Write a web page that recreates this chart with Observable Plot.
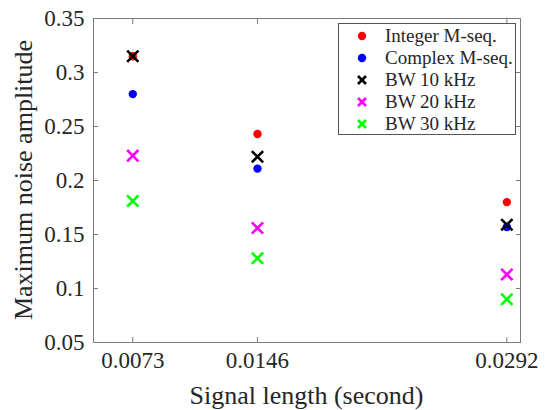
<!DOCTYPE html>
<html>
<head>
<meta charset="utf-8">
<script src="https://cdn.jsdelivr.net/npm/d3@7"></script>
<script src="https://cdn.jsdelivr.net/npm/@observablehq/plot@0.6"></script>
<style>
  html, body { margin: 0; padding: 0; background: #fff; }
  #wrap { position: relative; width: 547px; height: 410px; overflow: hidden; }
  #wrap svg text { font-family: "Liberation Serif", serif; }
  #legend {
    position: absolute; left: 338px; top: 23px; width: 178px; height: 112px;
    border: 1px solid #555; background: #fff; box-sizing: border-box;
    font-family: "Liberation Serif", serif; font-size: 19px; color: #262626;
    padding-top: 1px;
  }
  .row { display: flex; align-items: center; height: 22px; }
  .row svg { margin-left: 17px; margin-right: 17px; }
  .title {
    position: absolute; font-family: "Liberation Serif", serif; font-size: 26px;
    line-height: 26px; height: 26px; color: #262626; text-align: center; white-space: nowrap;
  }
  #xtitle { left: 93px; width: 427px; top: 383px; }
  #ytitle { left: -126px; width: 300px; top: 167px; transform: rotate(-90deg); transform-origin: 50% 50%; }
</style>
</head>
<body>
<div id="wrap"><div id="legend"></div><div id="xtitle" class="title"></div><div id="ytitle" class="title"></div></div>
<script>
const seriesNames = ["Integer M-seq.", "Complex M-seq.", "BW 10 kHz", "BW 20 kHz", "BW 30 kHz"];
const seriesColors = ["#ff0000", "#0000ff", "#000000", "#ff00ff", "#00ff00"];
const seriesShapes = ["circle", "circle", "times", "times", "times"];
const signalLength = [0.0073, 0.0146, 0.0292];
const integerMseq = [0.315, 0.243, 0.180];
const complexMseq = [0.280, 0.211, 0.157];
const bw10 = [0.315, 0.222, 0.159];
const bw20 = [0.223, 0.156, 0.113];
const bw30 = [0.181, 0.128, 0.090];
const yTicks = [0.05, 0.1, 0.15, 0.2, 0.25, 0.3, 0.35];
const xTickLabels = ["0.0073", "0.0146", "0.0292"];
const xTitle = "Signal length (second)";
const yTitle = "Maximum noise amplitude";

const seriesValues = [integerMseq, complexMseq, bw10, bw20, bw30];
const rows = [];
seriesNames.forEach((name, i) => {
  signalLength.forEach((x, j) => rows.push({series: name, shape: seriesShapes[i], x, y: seriesValues[i][j]}));
});
const circles = rows.filter(d => d.shape === "circle");
const crosses = rows.filter(d => d.shape === "times");

const textColor = "#262626";
const frameColor = "#7a7a7a";
const serif = "Liberation Serif";

const chart = Plot.plot({
  width: 547,
  height: 410,
  marginLeft: 93,
  marginRight: 27,
  marginTop: 18,
  marginBottom: 68,
  style: {fontFamily: serif, fontSize: "23px", color: textColor, background: "#fff"},
  x: {type: "linear", domain: [0.005, 0.03]},
  y: {domain: [0.05, 0.35]},
  color: {domain: seriesNames, range: seriesColors},
  marks: [
    Plot.frame({stroke: frameColor, strokeWidth: 1}),
    Plot.axisX(signalLength, {
      anchor: "bottom", tickSize: -5, tickPadding: 14, stroke: frameColor,
      tickFormat: (d, i) => xTickLabels[i], fill: textColor, fontFamily: serif, label: null
    }),
    Plot.axisX(signalLength, {anchor: "top", tickSize: -5, stroke: frameColor, tickFormat: () => "", label: null}),
    Plot.axisY(yTicks, {
      anchor: "left", tickSize: -5, tickPadding: 14, stroke: frameColor,
      tickFormat: d => String(+d.toFixed(2)), fill: textColor, fontFamily: serif, label: null
    }),
    Plot.axisY(yTicks, {anchor: "right", tickSize: -5, stroke: frameColor, tickFormat: () => "", label: null}),
    Plot.dot(circles, {x: "x", y: "y", fill: "series", r: 4.2, stroke: null}),
    Plot.dot(crosses, {x: "x", y: "y", stroke: "series", symbol: "times", r: 5.2, strokeWidth: 2.6})
  ]
});
document.getElementById("wrap").insertBefore(chart, document.getElementById("legend"));
document.getElementById("xtitle").textContent = xTitle;
document.getElementById("ytitle").textContent = yTitle;

// legend overlay
const legend = d3.select("#legend");
seriesNames.forEach((name, i) => {
  const row = legend.append("div").attr("class", "row");
  const svg = row.append("svg").attr("width", 12).attr("height", 12);
  if (seriesShapes[i] === "circle") {
    svg.append("circle").attr("cx", 6).attr("cy", 6).attr("r", 4.2).attr("fill", seriesColors[i]);
  } else {
    svg.append("path").attr("d", "M2,2L10,10M10,2L2,10").attr("stroke", seriesColors[i]).attr("stroke-width", 2.6).attr("fill", "none");
  }
  row.append("span").text(name);
});
</script>
</body>
</html>
